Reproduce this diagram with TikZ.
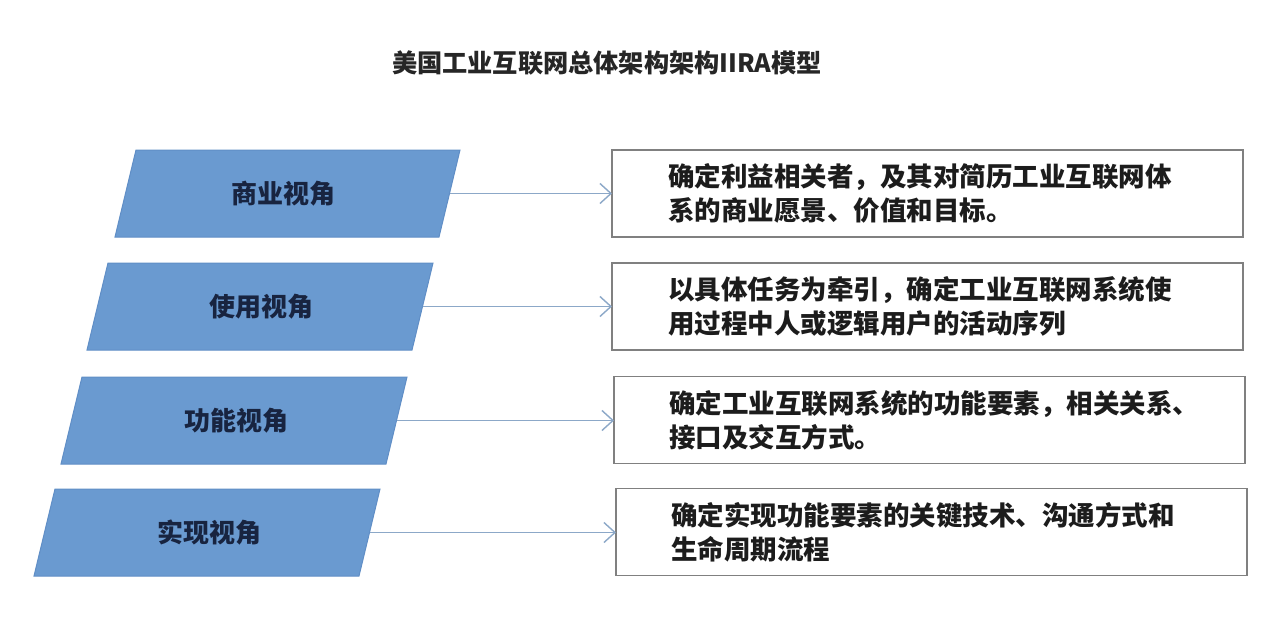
\documentclass[tikz,border=0pt]{standalone}
\usepackage{fontspec}
\setmainfont{Noto Sans CJK SC}
\usetikzlibrary{arrows.meta}
\definecolor{pfill}{RGB}{106,154,208}
\definecolor{pdraw}{RGB}{96,142,198}
\definecolor{ptext}{RGB}{24,36,64}
\definecolor{arrc}{RGB}{140,168,200}
\definecolor{bdraw}{RGB}{128,128,128}
\definecolor{btext}{RGB}{28,28,28}
\begin{document}
\begin{tikzpicture}[x=1pt,y=-1pt,
  para/.style={fill=pfill,draw=pdraw,line width=1pt},
  plabel/.style={font=\fontsize{26}{30}\selectfont\bfseries,text=ptext,inner sep=0pt},
  descbox/.style={draw=bdraw,line width=1.6pt,fill=white,minimum width=631pt,minimum height=87pt,inner sep=0pt,outer sep=0pt},
  desc/.style={font=\fontsize{26.5}{34}\selectfont\bfseries,text=btext,align=left,inner sep=0pt,anchor=west},
  conn/.style={draw=arrc,line width=1.5pt,-{Straight Barb[length=11pt,width=20pt,line width=1.4pt]}},
  ttl/.style={font=\fontsize{25.2}{28}\selectfont\bfseries,text=black!85,inner sep=0pt}
]
\path[fill=white,use as bounding box] (0,0) rectangle (1284,616);

\node[ttl] (title) at (607,63) {美国工业互联网总体架构架构IIRA模型};

% parallelograms
\path[para] (136,150) -- (460,150) -- (439,237) -- (115,237) -- cycle;
\path[para] (108,263) -- (433,263) -- (412,350) -- (87,350) -- cycle;
\path[para] (82,377) -- (407,377) -- (386,464) -- (61,464) -- cycle;
\path[para] (55,489) -- (380,489) -- (359,576) -- (34,576) -- cycle;
\coordinate (e1) at (449.5,193.5);
\coordinate (e2) at (422.5,306.5);
\coordinate (e3) at (396.5,420.5);
\coordinate (e4) at (369.5,532.5);

\node[plabel] (l1) at (283,194) {商业视角};
\node[plabel] (l2) at (261,307) {使用视角};
\node[plabel] (l3) at (236,421) {功能视角};
\node[plabel] (l4) at (209,533) {实现视角};

% description boxes
\node[descbox] (b1) at (927.5,193.5) {};
\node[descbox] (b2) at (927.5,306.5) {};
\node[descbox] (b3) at (929.5,420) {};
\node[descbox] (b4) at (931.5,532) {};

\node[desc] (d1) at ([xshift=56pt]b1.west) {确定利益相关者，及其对简历工业互联网体\\系的商业愿景、价值和目标。};
\node[desc] (d2) at ([xshift=56pt]b2.west) {以具体任务为牵引，确定工业互联网系统使\\用过程中人或逻辑用户的活动序列};
\node[desc] (d3) at ([xshift=55pt]b3.west) {确定工业互联网系统的功能要素，相关关系、\\接口及交互方式。};
\node[desc] (d4) at ([xshift=55pt]b4.west) {确定实现功能要素的关键技术、沟通方式和\\生命周期流程};

% connectors
\draw[conn] (e1) -- (e1 -| b1.west);
\draw[conn] (e2) -- (e2 -| b2.west);
\draw[conn] (e3) -- (e3 -| b3.west);
\draw[conn] (e4) -- (e4 -| b4.west);
\end{tikzpicture}
\end{document}
